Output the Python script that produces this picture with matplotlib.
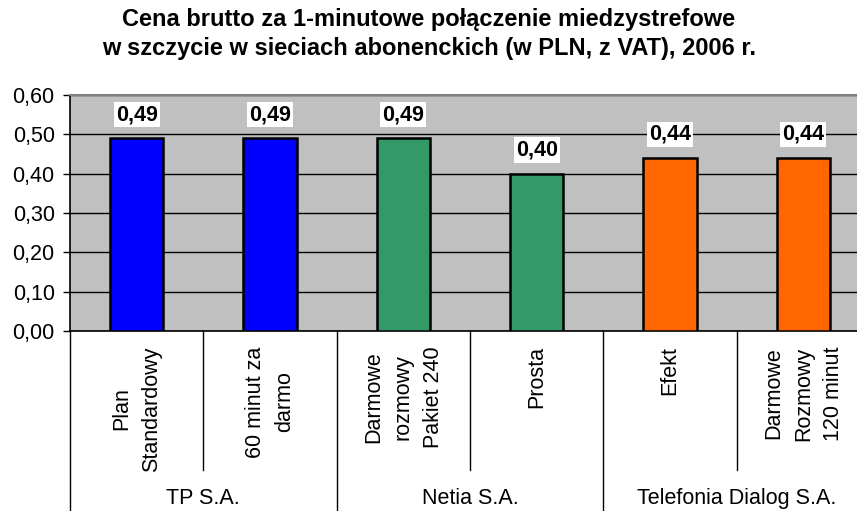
import numpy as np
import matplotlib.pyplot as plt
import matplotlib.transforms as mtransforms

plt.rcParams['font.family'] = ['Liberation Sans', 'DejaVu Sans']

# Data
plans = ['Plan\nStandardowy', '60 minut za\ndarmo', 'Darmowe\nrozmowy\nPakiet 240',
         'Prosta', 'Efekt', 'Darmowe\nRozmowy\n120 minut']
prices = [0.49, 0.49, 0.49, 0.40, 0.44, 0.44]
operators = ['TP S.A.', 'Netia S.A.', 'Telefonia Dialog S.A.']
group_size = [2, 2, 2]
colors = ['#0000FF', '#0000FF', '#339966', '#339966', '#FF6600', '#FF6600']

W, H = 857, 511
fig = plt.figure(figsize=(W / 100, H / 100), dpi=100)
# plot area runs past the right edge of the picture, as in the original
ax = fig.add_axes([70 / W, (H - 331) / H, (870 - 70) / W, (331 - 95) / H])
ax.set_facecolor('#C0C0C0')

fs = 15.5
x = np.arange(len(prices))
ax.bar(x, prices, width=0.4, color=colors, edgecolor='black', linewidth=1.8, zorder=3)
for xi, v in zip(x, prices):
    ax.annotate(f'{v:.2f}'.replace('.', ','), (xi, v), xytext=(0, 9.5), textcoords='offset points',
                ha='center', va='bottom', fontsize=fs, fontweight='bold', zorder=4,
                bbox=dict(boxstyle='square,pad=0.1', fc='white', ec='none'))

ax.set_xlim(-0.5, len(prices) - 0.5)
ax.set_ylim(0, 0.6)
ticks = np.arange(0, 0.61, 0.1)
ax.set_yticks(ticks)
ax.set_yticklabels([f'{t:.2f}'.replace('.', ',') for t in ticks], fontsize=fs)
ax.yaxis.grid(True, color='black', linewidth=1)
ax.set_axisbelow(True)
ax.tick_params(axis='y', length=5, width=1, direction='out', pad=6)
ax.set_xticks([])
for s in ['left', 'bottom']:
    ax.spines[s].set_linewidth(1.2)
ax.spines['top'].set_color('#808080')
ax.spines['top'].set_linewidth(1.5)
ax.spines['right'].set_visible(False)

trans = mtransforms.blended_transform_factory(ax.transData, ax.transAxes)
for xi, lab in zip(x, plans):
    ax.text(xi, -0.065, lab, transform=trans, rotation=90, ha='center', va='top',
            multialignment='center', fontsize=fs, linespacing=1.55, clip_on=False)

# separators below the axis
start = 0
ax.plot([-0.5, -0.5], [0, -0.8], transform=trans, color='black', lw=1, clip_on=False)
for name, n in zip(operators, group_size):
    for k in range(1, n):
        ax.plot([start + k - 0.5] * 2, [0, -0.59], transform=trans, color='black', lw=1, clip_on=False)
    end = start + n
    ax.plot([end - 0.5] * 2, [0, -0.8], transform=trans, color='black', lw=1, clip_on=False)
    ax.text(start + (n - 1) / 2, -0.71, name, transform=trans, ha='center', va='center',
            fontsize=fs, clip_on=False)
    start = end

fig.text(429 / W, 1 - 34 / H,
         'Cena brutto za 1-minutowe połączenie miedzystrefowe\n'
         'w szczycie w sieciach abonenckich (w PLN, z VAT), 2006 r.',
         ha='center', va='center', fontsize=17, fontweight='bold', linespacing=1.3)

fig.savefig('out.png', dpi=100)
